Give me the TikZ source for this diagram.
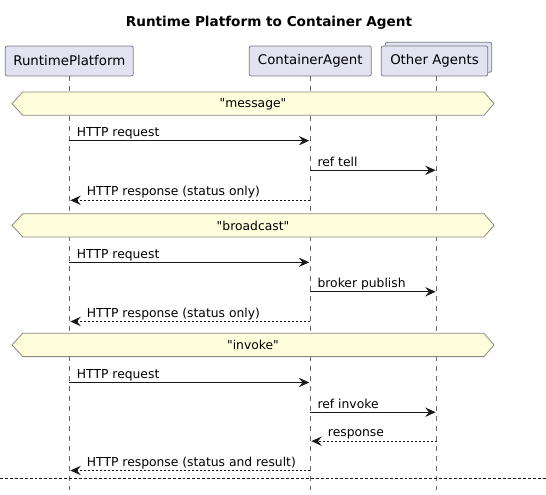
\documentclass[tikz,border=0pt]{standalone}
\usepackage{fontspec}
\setmainfont{DejaVu Sans}[Ligatures=TeXOff]
\usetikzlibrary{arrows.meta}
\definecolor{partfill}{HTML}{E2E2F0}
\definecolor{partdraw}{HTML}{7A7A82}
\definecolor{bannerfill}{HTML}{FEFEDC}
\definecolor{bannerdraw}{HTML}{8A8A80}
\definecolor{lifecol}{HTML}{6A6A6A}
\definecolor{arrowcol}{HTML}{181818}
\tikzset{
  titlestyle/.style={font=\fontsize{10.2}{12}\selectfont\bfseries, inner sep=0pt},
  part/.style={draw=partdraw, fill=partfill, line width=0.6pt, rounded corners=1.5pt,
    inner sep=0pt, minimum height=22.5pt, font=\fontsize{10}{12}\selectfont},
  lifeline/.style={draw=lifecol, line width=0.5pt, dash pattern=on 3.75pt off 3.75pt},
  banner/.style={draw=bannerdraw, fill=bannerfill, line width=0.6pt},
  lbl/.style={font=\fontsize{9.25}{11}\selectfont, inner sep=0pt},
  msg/.style={draw=arrowcol, line width=0.7pt, shorten >=0.8pt,
    -{Stealth[length=7.8pt,width=7pt,inset=2.8pt]}},
  reply/.style={msg, dash pattern=on 1.5pt off 1.5pt},
  sep/.style={draw=arrowcol, line width=0.6pt, dash pattern=on 2.2pt off 1.5pt}
}
\begin{document}
\begin{tikzpicture}[x=0.75pt,y=-0.75pt]
\useasboundingbox (0,0) rectangle (546,495);
\node[titlestyle] (title) at (269,23) {Runtime Platform to Container Agent};
% participants
\node[part, minimum width=96pt] (rp) at (69.3,61) {RuntimePlatform};
\node[part, minimum width=91.5pt] (ca) at (310.3,61) {ContainerAgent};
\node[part, minimum width=79.8pt] (oaback) at (438.5,57.3) {};
\node[part, minimum width=79.8pt] (oa) at (434.5,61) {Other Agents};
% lifeline ends
\coordinate (rpend) at (69.3,490);
\coordinate (caend) at (310.3,490);
\coordinate (oaend) at (436.7,490);
\draw[lifeline] (rp.south) -- (rpend);
\draw[lifeline] (ca.south) -- (caend);
\draw[lifeline] (oaend |- oa.south) -- (oaend);
% banners
\foreach \t/\n/\txt in {92/g1/"message", 213.7/g2/"broadcast", 333.3/g3/"invoke"}{
  \draw[banner] (12,\t+11.65) -- (22.7,\t) -- (484,\t) -- (494,\t+11.65)
    -- (484,\t+23.3) -- (22.7,\t+23.3) -- cycle;
  \node[lbl] (\n) at (253,\t+11.9) {\txt};
}
% message end points
\foreach \n/\y in {m1/140.7, m2/170.3, m3/200.3, m4/262.3, m5/291.8, m6/321.5,
                   m7/382.5, m8/412.2, m9/441.2, m10/470.5}{
  \coordinate (\n rp) at (69.3,\y);
  \coordinate (\n ca) at (310.3,\y);
  \coordinate (\n oa) at (436.7,\y);
}
% group 1
\draw[msg] (m1rp) -- (m1ca);
\node[lbl, anchor=base west] (l1) at (76.7,136.7) {HTTP request};
\draw[msg] (m2ca) -- (m2oa);
\node[lbl, anchor=base west] (l2) at (317.3,166.3) {ref tell};
\draw[reply] (m3ca) -- (m3rp);
\node[lbl, anchor=base west] (l3) at (86.7,195.8) {HTTP response (status only)};
% group 2
\draw[msg] (m4rp) -- (m4ca);
\node[lbl, anchor=base west] (l4) at (76.7,258.3) {HTTP request};
\draw[msg] (m5ca) -- (m5oa);
\node[lbl, anchor=base west] (l5) at (317.3,287.8) {broker publish};
\draw[reply] (m6ca) -- (m6rp);
\node[lbl, anchor=base west] (l6) at (86.7,317) {HTTP response (status only)};
% group 3
\draw[msg] (m7rp) -- (m7ca);
\node[lbl, anchor=base west] (l7) at (76.7,378.5) {HTTP request};
\draw[msg] (m8ca) -- (m8oa);
\node[lbl, anchor=base west] (l8) at (317.3,408.2) {ref invoke};
\draw[reply] (m9oa) -- (m9ca);
\node[lbl, anchor=base west] (l9) at (327.7,436.7) {response};
\draw[reply] (m10ca) -- (m10rp);
\node[lbl, anchor=base west] (l10) at (86.7,466) {HTTP response (status and result)};
% separator
\coordinate (sepL) at (0,478.3);
\coordinate (sepR) at (546,478.3);
\draw[sep] (sepL) -- (sepR);
\end{tikzpicture}
\end{document}
